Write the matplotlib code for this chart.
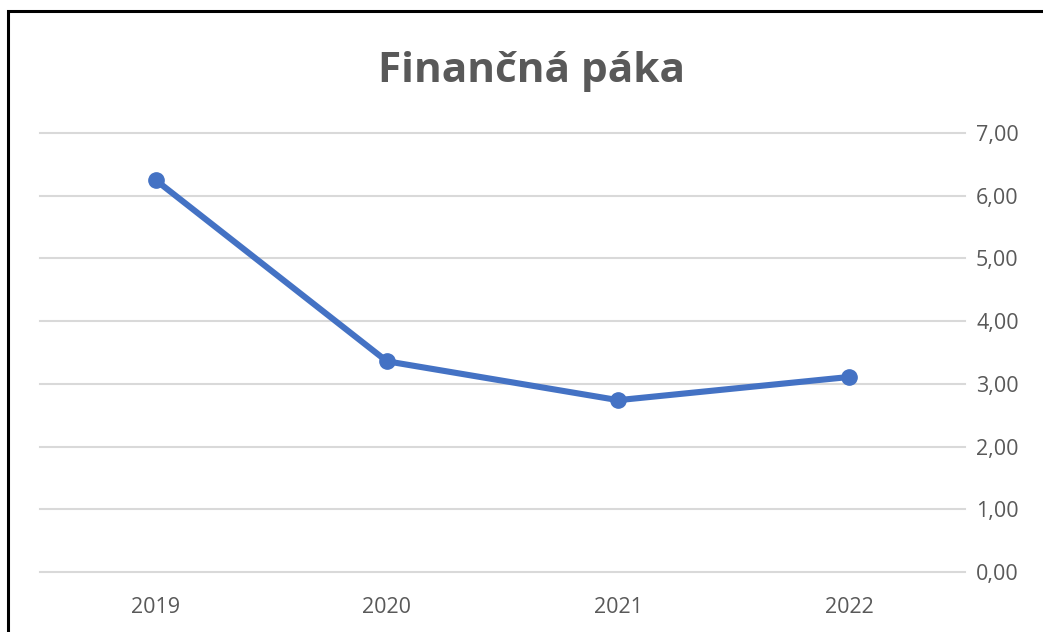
import matplotlib
matplotlib.use("Agg")
import matplotlib.pyplot as plt
from matplotlib.patches import Rectangle

years = ["2019", "2020", "2021", "2022"]
leverage = [6.25, 3.36, 2.74, 3.11]
yticks = [0, 1, 2, 3, 4, 5, 6, 7]
ytick_labels = ["0,00", "1,00", "2,00", "3,00", "4,00", "5,00", "6,00", "7,00"]

W, H = 1043, 632
fig = plt.figure(figsize=(W / 100, H / 100), dpi=100)
fig.patch.set_facecolor("white")

ax = fig.add_axes([40 / W, (H - 572) / H, (965 - 40) / W, (572 - 133) / H])
x = list(range(len(years)))
ax.plot(x, leverage, color="#4472C4", linewidth=4.4, marker="o",
        markersize=11, solid_capstyle="round", solid_joinstyle="round",
        zorder=3)

ax.set_xlim(-0.5, len(years) - 0.5)
ax.set_ylim(0, 7)
ax.set_xticks(x)
ax.set_xticklabels(years)
ax.set_yticks(yticks)
ax.set_yticklabels(ytick_labels)
ax.yaxis.tick_right()
ax.tick_params(axis="both", length=0, labelsize=15.5, labelcolor="#595959")
ax.tick_params(axis="y", pad=8)
ax.tick_params(axis="x", pad=18)
for lbl in ax.get_xticklabels() + ax.get_yticklabels():
    lbl.set_family(["Open Sans", "DejaVu Sans"])
ax.grid(axis="y", color="#D9D9D9", linewidth=1.5)
for gl in ax.get_ygridlines():
    gl.set_clip_on(False)
ax.set_axisbelow(True)
for s in ax.spines.values():
    s.set_visible(False)

fig.text(531 / W, 1 - 72 / H, "Finančná páka", ha="center", va="center",
         fontsize=30.5, fontweight="bold", color="#595959",
         family=["Open Sans", "DejaVu Sans"])

# outer frame (cropped on right and bottom)
fig.patches.append(Rectangle((8 / W, -0.1), 1.2, 1 - 11 / H + 0.1,
                             transform=fig.transFigure, fill=False,
                             edgecolor="black", linewidth=2.2))

fig.savefig("out.png", dpi=100)
